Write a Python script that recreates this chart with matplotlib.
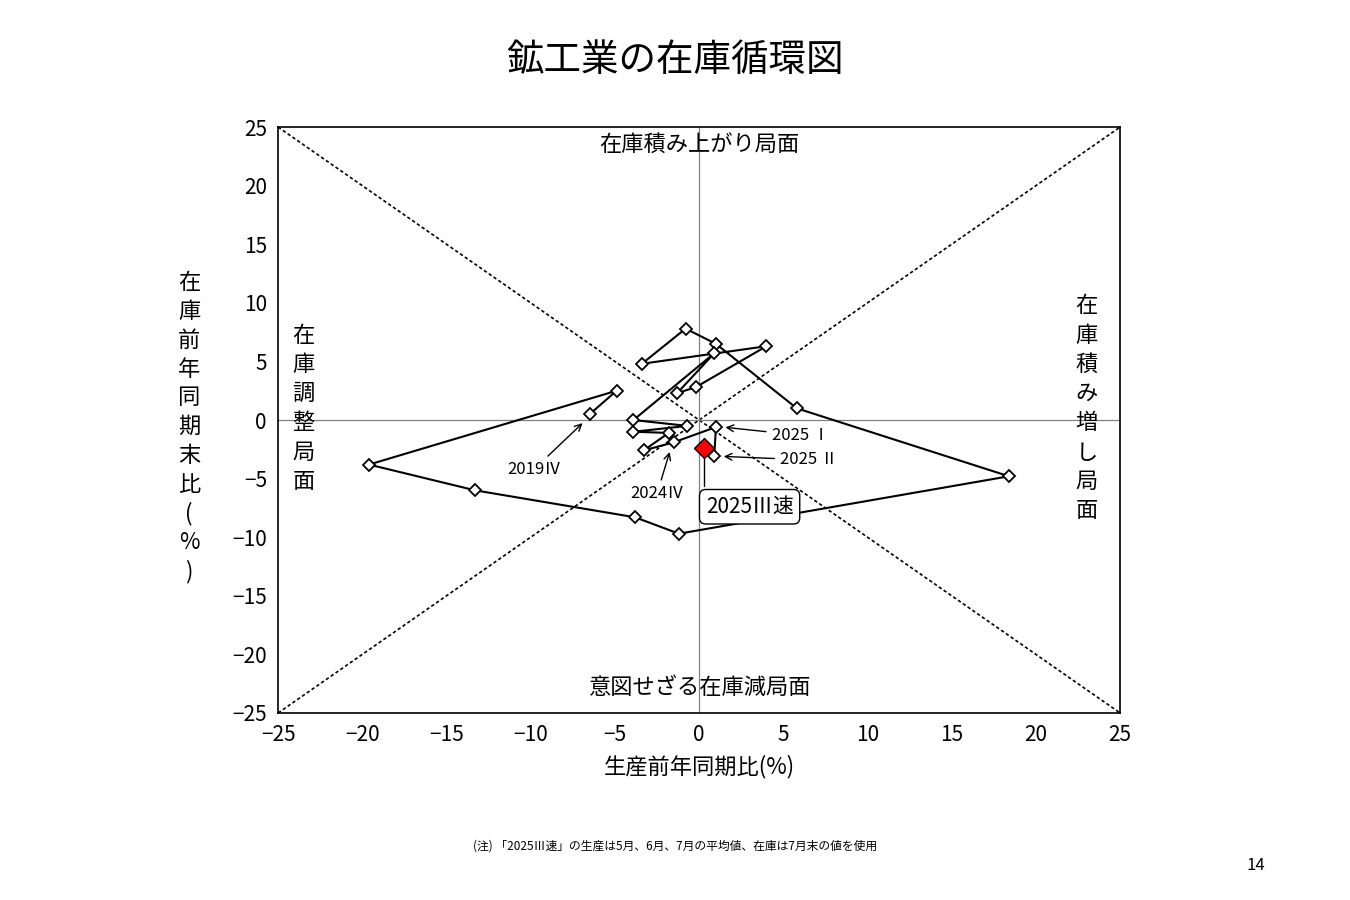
import matplotlib
matplotlib.use("Agg")
import matplotlib.pyplot as plt

plt.rcParams["font.family"] = "Noto Sans CJK JP"

prod = [-6.5, -4.9, -19.6, -13.3, -3.8, -1.2, 18.4, 5.8, 1.0, -0.8, -3.4, 4.0,
        -0.2, -1.3, 0.9, -3.9, -0.7, -3.9, -1.8, -3.3, -1.5, 1.0, 0.9]
inv = [0.5, 2.5, -3.8, -6.0, -8.3, -9.7, -4.8, 1.0, 6.5, 7.8, 4.8, 6.3,
       2.8, 2.3, 5.7, 0.0, -0.5, -1.0, -1.1, -2.6, -1.9, -0.6, -3.1]
prelim_prod = [0.3]
prelim_inv = [-2.4]

fig = plt.figure(figsize=(13.5, 9), dpi=100)
ax = fig.add_axes([0.206, 0.2078, 0.6237, 0.651])
ax.set_xlim(-25, 25)
ax.set_ylim(-25, 25)
ax.plot([-25, 25], [-25, 25], ls=(0, (2, 1.5)), color="black", lw=1.2)
ax.plot([-25, 25], [25, -25], ls=(0, (2, 1.5)), color="black", lw=1.2)
ax.axhline(0, color="gray", lw=0.9)
ax.axvline(0, color="gray", lw=0.9)
ax.plot(prod, inv, color="black", lw=1.5, marker="D", ms=6, mfc="white", mec="black", mew=1.3, zorder=3)
ax.plot(prelim_prod, prelim_inv, ls="none", marker="D", ms=10, mfc="red", mec="black", mew=1, zorder=4)

ticks = list(range(-25, 30, 5))
ax.set_xticks(ticks)
ax.set_yticks(ticks)
ax.set_xticklabels(["−" + str(-t) if t < 0 else str(t) for t in ticks], fontsize=15)
ax.set_yticklabels(["−" + str(-t) if t < 0 else str(t) for t in ticks], fontsize=15)
ax.tick_params(length=0, pad=8)
for s in ax.spines.values():
    s.set_linewidth(1.2)

ax.set_xlabel("生産前年同期比(%)", fontsize=16, labelpad=6)
fig.text(0.14, 0.525, "在\n庫\n前\n年\n同\n期\n末\n比\n(\n%\n)", fontsize=16, ha="center", va="center", linespacing=1.32)

fig.text(0.5, 0.933, "鉱工業の在庫循環図", fontsize=27, ha="center", va="center")
ax.text(0, 23.5, "在庫積み上がり局面", fontsize=16, ha="center", va="center")
ax.text(0, -22.8, "意図せざる在庫減局面", fontsize=16, ha="center", va="center")
ax.text(-23.5, 1.0, "在\n庫\n調\n整\n局\n面", fontsize=16, ha="center", va="center", linespacing=1.35)
ax.text(23, 1.0, "在\n庫\n積\nみ\n増\nし\n局\n面", fontsize=16, ha="center", va="center", linespacing=1.35)

ap = dict(arrowstyle="->", color="black", lw=1)
ax.annotate("2019Ⅳ", xy=(prod[0] - 0.3, inv[0] - 0.6), xytext=(-9.8, -4.2), fontsize=12, ha="center", va="center", arrowprops=ap)
ax.annotate("2024Ⅳ", xy=(prod[20] - 0.2, inv[20] - 0.6), xytext=(-2.5, -6.3), fontsize=12, ha="center", va="center", arrowprops=ap)
ax.annotate("2025 Ⅰ", xy=(prod[21] + 0.4, inv[21]), xytext=(4.3, -1.3), fontsize=12, ha="left", va="center", arrowprops=ap)
ax.annotate("2025 Ⅱ", xy=(prod[22] + 0.4, inv[22]), xytext=(4.8, -3.4), fontsize=12, ha="left", va="center", arrowprops=ap)
ax.annotate("2025Ⅲ速", xy=(prelim_prod[0], prelim_inv[0] - 0.6), xytext=(3.0, -7.4), fontsize=15, ha="center", va="center",
            bbox=dict(boxstyle="round,pad=0.3", fc="white", ec="black", lw=1),
            arrowprops=dict(arrowstyle="-", color="black", lw=1, connectionstyle="angle,angleA=0,angleB=90"))

fig.text(0.5, 0.06, "(注) 「2025Ⅲ速」の生産は5月、6月、7月の平均値、在庫は7月末の値を使用", fontsize=8.5, ha="center", va="center")
fig.text(0.93, 0.038, "14", fontsize=12, ha="center", va="center")
fig.savefig("out.png", dpi=100)
